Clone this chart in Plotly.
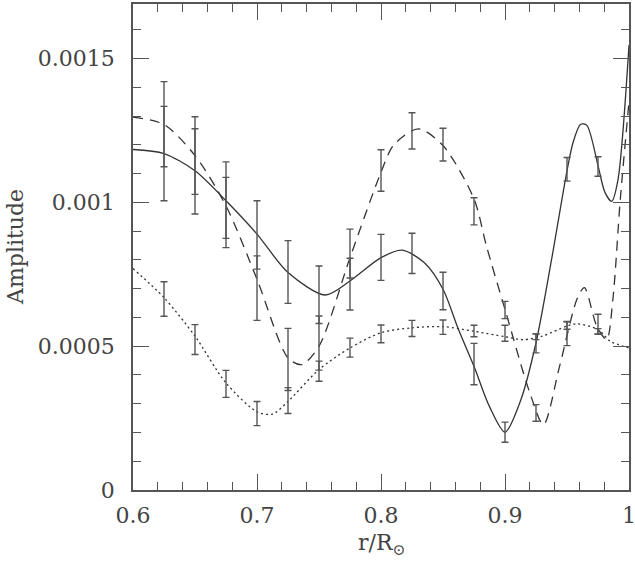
import plotly.graph_objects as go

# smooth model curves
r_solid = [0.6, 0.625, 0.65, 0.675, 0.7, 0.725, 0.755, 0.775, 0.8, 0.817, 0.835,
           0.85, 0.8625, 0.875, 0.8875, 0.9, 0.9125, 0.925, 0.9375, 0.95, 0.955,
           0.961, 0.966, 0.975, 0.9806, 0.986, 0.991, 1.0]
amp_solid = [0.001184, 0.00117, 0.00111, 0.001006, 0.00089, 0.000756, 0.000678,
             0.000727, 0.000808, 0.000834, 0.00079, 0.000698, 0.000558, 0.00043,
             0.00029, 0.000201, 0.00031, 0.000512, 0.0008, 0.00111, 0.00121,
             0.001272, 0.001268, 0.001128, 0.001035, 0.001004, 0.001076, 0.001547]

r_dash = [0.6, 0.625, 0.65, 0.675, 0.7, 0.725, 0.736, 0.75, 0.775, 0.8, 0.81,
          0.83, 0.85, 0.875, 0.885, 0.9, 0.92, 0.931, 0.944, 0.958, 0.964, 0.974,
          0.982, 0.987, 0.993, 1.0]
amp_dash = [0.001297, 0.001271, 0.001163, 0.000988, 0.000733, 0.000459, 0.000436,
            0.0005, 0.000808, 0.001105, 0.001198, 0.001256, 0.001198, 0.001012,
            0.000849, 0.000628, 0.000338, 0.000227, 0.00043, 0.000663, 0.000704,
            0.00057, 0.000523, 0.000663, 0.001012, 0.00135]

r_dot = [0.6, 0.625, 0.65, 0.675, 0.7, 0.7125, 0.725, 0.75, 0.775, 0.8, 0.825,
         0.85, 0.875, 0.9, 0.915, 0.93, 0.95, 0.958, 0.975, 0.985, 1.0]
amp_dot = [0.00077, 0.000669, 0.000535, 0.000372, 0.000272, 0.000264, 0.000308,
           0.000419, 0.000494, 0.000547, 0.000564, 0.000568, 0.000552, 0.000533,
           0.000523, 0.000535, 0.00057, 0.000578, 0.000558, 0.000517, 0.000494]

# measured points with error bars
r_err = [0.625, 0.65, 0.675, 0.7, 0.725, 0.75, 0.775, 0.8, 0.825, 0.85, 0.875,
         0.9, 0.925, 0.95, 0.975]
meas_solid = [0.001213, 0.001129, 0.000992, 0.000887, 0.000758, 0.000679, 0.000716,
              0.000809, 0.000823, 0.000692, 0.000438, 0.000201, 0.00051, 0.001115,
              0.001125]
err_solid = [0.000207, 0.000169, 0.000149, 0.000119, 0.000109, 0.0001, 0.00009,
             0.00008, 0.00007, 0.000065, 0.000072, 0.000035, 0.000033, 0.000041,
             0.000034]
meas_dash = [0.001229, 0.001142, 0.000981, 0.000702, 0.000454, 0.000511, 0.000822,
             0.001111, 0.001249, 0.001201, 0.000969, 0.000626, 0.000268, 0.000544,
             0.000576]
err_dash = [0.000105, 0.000114, 0.000106, 0.000112, 0.000108, 0.000094, 0.000085,
            0.000072, 0.000063, 0.000057, 0.000047, 0.00003, 0.000029, 0.000042,
            0.000035]
meas_dot = [0.000664, 0.000523, 0.000369, 0.000266, 0.000311, 0.000413, 0.000495,
            0.000543, 0.000562, 0.000566, 0.000553, 0.000545, 0.000533, 0.000572,
            0.000552]
err_dot = [0.00006, 0.000052, 0.000047, 0.000042, 0.000045, 0.000035, 0.000033,
           0.000031, 0.000028, 0.000025, 0.00002, 0.000028, 0.00001, 0.000013,
           0.000009]

y_tickvals = [0, 0.0005, 0.001, 0.0015]
y_ticktext = ['0', '0.0005', '0.001', '0.0015']
x_tickvals = [0.6, 0.7, 0.8, 0.9, 1.0]
x_ticktext = ['0.6', '0.7', '0.8', '0.9', '1']

INK = '#333333'
FRAME = '#555555'
FONT = 'DejaVu Serif'

fig = go.Figure()

curves = [
    (r_solid, amp_solid, 'solid'),
    (r_dash, amp_dash, '10px,7px'),
    (r_dot, amp_dot, '2px,3px'),
]
for xs, ys, dash in curves:
    fig.add_trace(go.Scatter(
        x=xs, y=ys, mode='lines',
        line=dict(color=INK, width=1.3, dash=dash, shape='spline', smoothing=0.8),
        showlegend=False, hoverinfo='skip'
    ))

for vals, errs in [(meas_solid, err_solid), (meas_dash, err_dash), (meas_dot, err_dot)]:
    fig.add_trace(go.Scatter(
        x=r_err, y=vals, mode='markers',
        marker=dict(size=1, color='rgba(0,0,0,0)'),
        error_y=dict(type='data', array=errs, visible=True,
                     color=FRAME, thickness=1.4, width=3.5),
        showlegend=False
    ))

fig.update_layout(
    width=635, height=561,
    margin=dict(l=133, r=6, t=4, b=71),
    plot_bgcolor='white',
    paper_bgcolor='white',
    font=dict(family=FONT, size=22, color='#444444'),
)

# axis titles as annotations so they sit where the reference has them
fig.add_annotation(text='r/R<sub>⊙</sub>', xref='paper', yref='paper',
                   x=0.5, y=-0.113, xanchor='center', yanchor='middle',
                   showarrow=False, font=dict(size=22))
fig.add_annotation(text='Amplitude', xref='paper', yref='paper',
                   x=-0.238, y=0.5, xanchor='center', yanchor='middle',
                   textangle=-90, showarrow=False, font=dict(size=22))

fig.update_xaxes(
    range=[0.6, 1.0],
    tickvals=x_tickvals, ticktext=x_ticktext,
    ticks='inside', ticklen=16, tickwidth=1.2, tickcolor=FRAME,
    minor=dict(ticks='inside', ticklen=8, dtick=0.02, tickcolor=FRAME, tickwidth=1.2),
    showline=True, linecolor=FRAME, linewidth=1.5, mirror='allticks',
    showgrid=False, zeroline=False, automargin=False,
    ticklabelstandoff=5, ticklabeloverflow='allow',
)
fig.update_yaxes(
    range=[0, 0.00169],
    tickvals=y_tickvals, ticktext=y_ticktext,
    ticks='inside', ticklen=16, tickwidth=1.2, tickcolor=FRAME,
    minor=dict(ticks='inside', ticklen=8, dtick=0.0001, tickcolor=FRAME, tickwidth=1.2),
    showline=True, linecolor=FRAME, linewidth=1.5, mirror='allticks',
    showgrid=False, zeroline=False, automargin=False,
    ticklabelstandoff=12, ticklabeloverflow='allow',
)

# page body has an 8px default margin; drop it so the figure fills the window
fig.write_html("out.html", config={'displayModeBar': False},
               post_script="document.body.style.margin='0';")
